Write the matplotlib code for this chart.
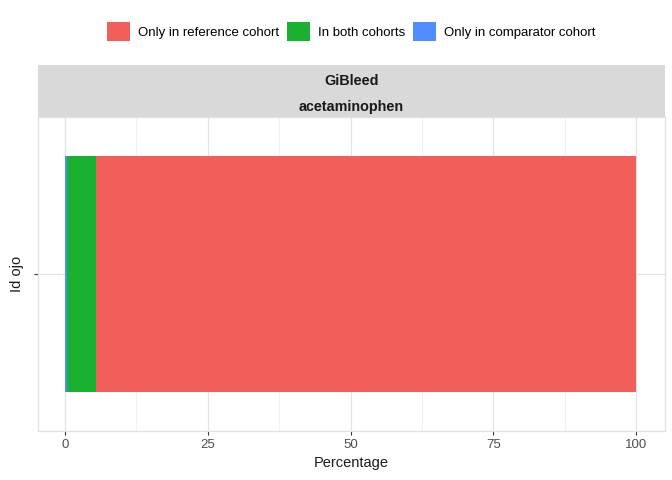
import matplotlib
matplotlib.use("Agg")
import matplotlib.pyplot as plt
from matplotlib.patches import Patch, Rectangle

plt.rcParams["font.family"] = ["Liberation Sans", "DejaVu Sans"]

# data
categories = [""]
only_comparator = [0.3]
in_both = [5.1]
only_reference = [94.6]
series_names = ["Only in reference cohort", "In both cohorts", "Only in comparator cohort"]
colors = ["#F25F5B", "#19B12F", "#4F8CFF"]
x_ticks = [0, 25, 50, 75, 100]
strip_lines = ["GiBleed", "acetaminophen"]

W, H = 672, 480
fig = plt.figure(figsize=(W / 100, H / 100), dpi=100)

pl, pr, pt, pb = 38, 665, 117, 431
ax = fig.add_axes([pl / W, 1 - pb / H, (pr - pl) / W, (pb - pt) / H])

y = list(range(1, len(categories) + 1))
left = [0] * len(categories)
for vals, col in [(only_comparator, colors[2]), (in_both, colors[1]), (only_reference, colors[0])]:
    ax.barh(y, vals, left=left, height=0.9, color=col, zorder=3)
    left = [a + b for a, b in zip(left, vals)]

ax.set_xlim(-4.75, 105.1)
ax.set_ylim(0.4, 1.6)
ax.set_xticks(x_ticks)
ax.set_xticks([12.5, 37.5, 62.5, 87.5], minor=True)
ax.set_yticks(y)
ax.set_yticklabels(categories)
ax.grid(which="major", color="#E3E3E3", lw=0.9, zorder=0)
ax.grid(which="minor", axis="x", color="#EFEFEF", lw=0.6, zorder=0)
ax.tick_params(which="minor", length=0)
ax.tick_params(which="major", length=3, color="#333333", labelsize=9.5, labelcolor="#4D4D4D", pad=3)
for s in ax.spines.values():
    s.set_color("#E0E0E0")
    s.set_linewidth(0.9)
ax.set_xlabel("Percentage", fontsize=10.5, labelpad=3, color="#1A1A1A")
ax.set_ylabel("Id ojo", fontsize=10.5, color="#1A1A1A")
ax.yaxis.set_label_coords((24 - pl) / (pr - pl), 0.5)

# facet strip
st, sb = 65, 117
sax = fig.add_axes([pl / W, 1 - sb / H, (pr - pl) / W, (sb - st) / H])
sax.set_xlim(0, 1)
sax.set_ylim(0, 1)
sax.axis("off")
sax.add_patch(Rectangle((0, 0), 1, 1, color="#D9D9D9", transform=sax.transAxes))
sax.text(0.5, 0.69, strip_lines[0], ha="center", va="center", fontsize=10.4, fontweight="bold", color="#1A1A1A")
sax.text(0.5, 0.19, strip_lines[1], ha="center", va="center", fontsize=10.4, fontweight="bold", color="#1A1A1A")

handles = [Patch(facecolor=c, edgecolor="none") for c in colors]
fig.legend(handles, series_names, loc="center", bbox_to_anchor=(351 / W, 1 - 31.5 / H), ncol=3,
           frameon=False, fontsize=9.5, handlelength=1.75, handleheight=1.75,
           handletextpad=0.6, columnspacing=0.6, borderaxespad=0)

fig.savefig("out.png", dpi=100)
